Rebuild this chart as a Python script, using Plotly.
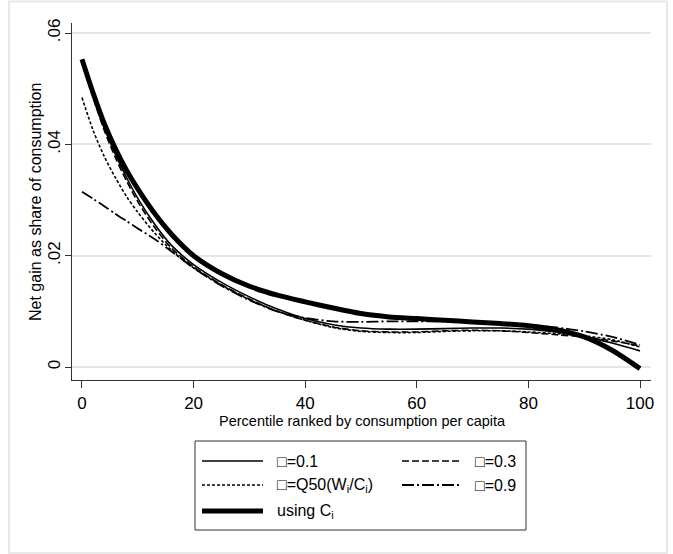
import plotly.graph_objects as go

# ---------------- data ----------------
pct = [0, 2, 4, 6, 8, 10, 13, 16, 20, 25, 30, 35, 40, 45, 50, 55, 60, 65, 70, 75, 80, 85, 90, 95, 100]

s_01 = [0.0552, 0.0488, 0.0430, 0.0382, 0.0340, 0.0303, 0.0257, 0.0219, 0.0184, 0.0152, 0.0126, 0.0104, 0.0087, 0.0076, 0.0070, 0.0068, 0.0068, 0.0069, 0.0070, 0.0070, 0.0068, 0.0063, 0.0055, 0.0043, 0.0029]
s_03 = [0.0550, 0.0484, 0.0425, 0.0376, 0.0334, 0.0297, 0.0251, 0.0214, 0.0180, 0.0148, 0.0122, 0.0100, 0.0084, 0.0072, 0.0065, 0.0063, 0.0063, 0.0065, 0.0066, 0.0065, 0.0062, 0.0058, 0.0054, 0.0047, 0.0038]
s_q50 = [0.0484, 0.0425, 0.0378, 0.0340, 0.0306, 0.0278, 0.0241, 0.0210, 0.0178, 0.0147, 0.0121, 0.0100, 0.0084, 0.0071, 0.0064, 0.0062, 0.0062, 0.0064, 0.0065, 0.0065, 0.0063, 0.0060, 0.0056, 0.0049, 0.0036]
s_09 = [0.0315, 0.0302, 0.0289, 0.0275, 0.0262, 0.0249, 0.0230, 0.0208, 0.0178, 0.0146, 0.0120, 0.0100, 0.0088, 0.0082, 0.0081, 0.0082, 0.0082, 0.0082, 0.0081, 0.0079, 0.0076, 0.0071, 0.0064, 0.0054, 0.0040]
s_ci = [0.0553, 0.0492, 0.0437, 0.0392, 0.0353, 0.0320, 0.0276, 0.0239, 0.0200, 0.0168, 0.0145, 0.0129, 0.0117, 0.0106, 0.0096, 0.0090, 0.0087, 0.0084, 0.0081, 0.0078, 0.0074, 0.0067, 0.0054, 0.0030, -0.0003]

y_tickvals = [0, 0.02, 0.04, 0.06]
y_ticktext = ["0", ".02", ".04", ".06"]
x_tickvals = [0, 20, 40, 60, 80, 100]

series_names = ["\u25a1=0.1", "\u25a1=0.3", "\u25a1=Q50(W<sub>i</sub>/C<sub>i</sub>)", "\u25a1=0.9", "using C<sub>i</sub>"]
series_vals = [s_01, s_03, s_q50, s_09, s_ci]
series_dash = ["solid", "7px,3px", "3px,2px", "12px,3px,2px,3px", "solid"]
series_width = [1.6, 1.6, 1.6, 1.8, 5]

# ---------------- geometry ----------------
W, H = 673, 554
L, R, T, B = 72, 22, 23, 174
PW, PH = W - L - R, H - T - B

def px(x):
    return (x - L) / PW

def py(y):
    return (H - B - y) / PH

FONT = "Liberation Sans"

fig = go.Figure()
for name, vals, dash, wd in zip(series_names, series_vals, series_dash, series_width):
    fig.add_trace(go.Scatter(x=pct, y=vals, mode="lines", name=name,
                             line=dict(color="black", width=wd, dash=dash, shape="spline", smoothing=0.8),
                             showlegend=False))

# ---------------- manual legend (Stata style) ----------------
shapes = []
annotations = []
shapes.append(dict(type="rect", xref="paper", yref="paper",
                   x0=px(195), x1=px(526), y0=py(441), y1=py(530),
                   line=dict(color="#333333", width=1), fillcolor="white", layer="below"))
leg_pos = [(202, 263, 275, 461), (402, 461, 473, 461), (202, 263, 275, 485), (402, 461, 473, 485), (202, 263, 275, 511)]
for (lx0, lx1, tx, ly), name, dash, wd in zip(leg_pos, series_names, series_dash, series_width):
    shapes.append(dict(type="line", xref="paper", yref="paper",
                       x0=px(lx0), x1=px(lx1), y0=py(ly), y1=py(ly),
                       line=dict(color="black", width=wd, dash=dash)))
    annotations.append(dict(xref="paper", yref="paper", x=px(tx), y=py(ly), text=name,
                            showarrow=False, xanchor="left", yanchor="middle",
                            font=dict(size=16, color="black", family=FONT)))

# outer graph-region frame
shapes.append(dict(type="rect", xref="paper", yref="paper",
                   x0=px(9), x1=px(667), y0=py(1.5), y1=py(553),
                   line=dict(color="#e8e8e8", width=2), layer="below"))

# x-axis title
annotations.append(dict(xref="paper", yref="paper", x=px(362), y=py(421),
                        text="Percentile ranked by consumption per capita", showarrow=False,
                        xanchor="center", yanchor="middle",
                        font=dict(size=14.5, color="black", family=FONT)))
# y-axis title
annotations.append(dict(xref="paper", yref="paper", x=px(35), y=py(202),
                        text="Net gain as share of consumption", showarrow=False, textangle=-90,
                        xanchor="center", yanchor="middle",
                        font=dict(size=16, color="black", family=FONT)))

fig.update_layout(
    width=W, height=H,
    margin=dict(l=L, r=R, t=T, b=B),
    paper_bgcolor="white", plot_bgcolor="white",
    showlegend=False,
    font=dict(family=FONT, color="black"),
    shapes=shapes, annotations=annotations,
    xaxis=dict(range=[-1.79, 101.97], tickvals=x_tickvals, ticks="outside", ticklen=7,
               tickcolor="#333333", showline=True, linecolor="#333333", linewidth=1,
               showgrid=False, zeroline=False, ticklabelstandoff=1,
               tickfont=dict(size=17, color="black", family=FONT)),
    yaxis=dict(range=[-0.002335, 0.0618], tickvals=y_tickvals, ticktext=y_ticktext,
               ticks="outside", ticklen=6, tickcolor="#333333", tickangle=-90,
               showline=True, linecolor="#333333", linewidth=1, ticklabelstandoff=-2,
               showgrid=True, gridcolor="#e6e6e6", gridwidth=1.5, zeroline=False,
               tickfont=dict(size=17, color="black", family=FONT)),
)

fig.write_html("out.html")
